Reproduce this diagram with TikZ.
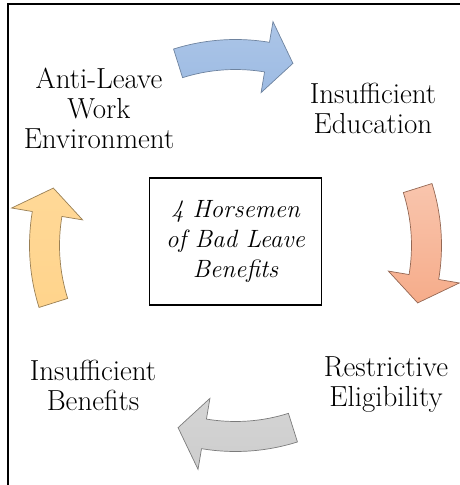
\documentclass[tikz,border=0pt]{standalone}
\usepackage{fontspec}
\usetikzlibrary{calc}

\definecolor{arrblue}{RGB}{157,187,227}
\definecolor{arrsalmon}{RGB}{246,172,138}
\definecolor{arrgray}{RGB}{205,205,205}
\definecolor{arryellow}{RGB}{255,212,140}

% block arrow bent round the centre (ctr), running clockwise
% #1 = tail angle, #2 = tip angle, #3 = style
\newcommand{\cyclearrow}[3]{%
  \pgfmathsetmacro{\headbase}{#2+8}
  \draw[#3] ([shift={(ctr)}]#1:206pt)
      arc[start angle=#1, end angle=\headbase, radius=206pt]
    -- ([shift={(ctr)}]\headbase:227pt)
    -- ([shift={(ctr)}]#2:191pt)
    -- ([shift={(ctr)}]\headbase:155pt)
    -- ([shift={(ctr)}]\headbase:176pt)
      arc[start angle=\headbase, end angle=#1, radius=176pt]
    -- cycle;
}

\tikzset{
  steptext/.style={align=center, font=\fontsize{29}{30}\selectfont},
  centrebox/.style={draw, line width=1.5pt, fill=white, align=center,
    minimum width=172pt, minimum height=127pt,
    font=\itshape\fontsize{25}{30}\selectfont},
  bluearrow/.style={draw=arrblue!70!black, line width=0.7pt,
    top color=arrblue!85!white, bottom color=arrblue},
  salmonarrow/.style={draw=arrsalmon!60!black, line width=0.7pt,
    top color=arrsalmon!70!white, bottom color=arrsalmon},
  grayarrow/.style={draw=arrgray!60!black, line width=0.7pt,
    top color=arrgray!85!white, bottom color=arrgray},
  yellowarrow/.style={draw=arryellow!60!black, line width=0.7pt,
    top color=arryellow!90!white, bottom color=arryellow}
}

\begin{document}
\begin{tikzpicture}[x=1pt, y=1pt]

  \useasboundingbox (0,0) rectangle (460,485);

  % ---- Frame (top and left edges) ----
  \draw[line width=2pt] (460,481) -- (8,481) -- (8,0);

  \coordinate (ctr) at (235.5,239.5);

  % ---- Cycle arrows ----
  \cyclearrow{107.5}{72.5}{bluearrow}
  \cyclearrow{17.5}{-17.5}{salmonarrow}
  \cyclearrow{-72.5}{-107.5}{grayarrow}
  \cyclearrow{197.5}{162.5}{yellowarrow}

  % ---- Centre box ----
  \node[centrebox] (title) at (235.5,243.5)
    {4 Horsemen\\of Bad Leave\\Benefits};

  % ---- Labels ----
  \node[steptext] (work) at (99,377) {Anti-Leave\\Work\\Environment};
  \node[steptext] (educ) at (373,377) {Insufficient\\Education};
  \node[steptext] (elig) at (386,100) {Restrictive\\Eligibility};
  \node[steptext] (bene) at (93,100) {Insufficient\\Benefits};

\end{tikzpicture}
\end{document}
